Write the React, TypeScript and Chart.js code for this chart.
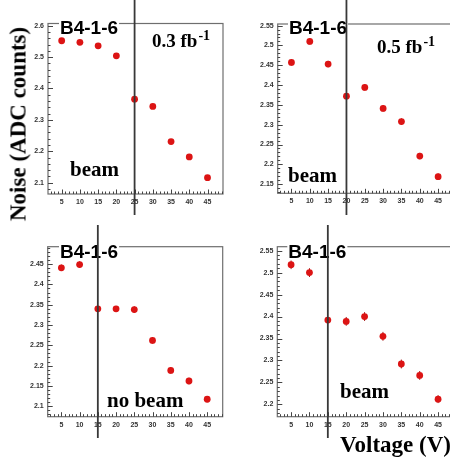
import React, { useEffect, useRef } from "react";
import { Chart, registerables } from "chart.js";

Chart.register(...registerables);

// ---- data ----
const voltages = [5, 10, 15, 20, 25, 30, 35, 40, 45];
const xTickValues = [5, 10, 15, 20, 25, 30, 35, 40, 45];

const noise03 = [2.552, 2.547, 2.536, 2.504, 2.366, 2.343, 2.231, 2.182, 2.116];
const err03 = [0.005, 0.005, 0.005, 0.005, 0.005, 0.005, 0.005, 0.005, 0.005];
const yTicks03 = [2.1, 2.2, 2.3, 2.4, 2.5, 2.6];

const noise05 = [2.457, 2.51, 2.453, 2.372, 2.394, 2.341, 2.308, 2.221, 2.169];
const err05 = [0.008, 0.008, 0.008, 0.007, 0.008, 0.008, 0.008, 0.008, 0.008];
const yTicks05 = [2.15, 2.2, 2.25, 2.3, 2.35, 2.4, 2.45, 2.5, 2.55];

const noiseNoBeam = [2.441, 2.449, 2.34, 2.34, 2.338, 2.262, 2.188, 2.162, 2.117];
const errNoBeam = [0.008, 0.008, 0.006, 0.007, 0.008, 0.008, 0.008, 0.008, 0.007];
const yTicksNoBeam = [2.1, 2.15, 2.2, 2.25, 2.3, 2.35, 2.4, 2.45];

const noiseBeam = [2.518, 2.5, 2.392, 2.389, 2.4, 2.355, 2.292, 2.266, 2.212];
const errBeam = [0.01, 0.01, 0.007, 0.01, 0.01, 0.01, 0.01, 0.01, 0.009];
const yTicksBeam = [2.2, 2.25, 2.3, 2.35, 2.4, 2.45, 2.5, 2.55];

const panelTitles = ["B4-1-6", "B4-1-6", "B4-1-6", "B4-1-6"];
const lumiLabels = ["0.3 fb", "0.5 fb", "", ""];
const beamLabels = ["beam", "beam", "no beam", "beam"];
const lineVoltages = [25, 20, 15, 15];

const X_MIN = 1.25;
const X_MAX = 49.25;

// ---- layout / style ----
type Panel = {
  left: number; top: number; w: number; h: number;
  padTop: number; padRight: number; yAxisW: number; xAxisH: number;
  yMin: number; yMax: number; yTicks: number[]; yMajor: number; yMinor: number;
  values: number[]; errs: number[];
  title: string; titlePos: [number, number];
  lumi: string; lumiPos: [number, number];
  beam: string; beamPos: [number, number];
  lineAt: number; lineEnd: number;
};

const panels: Panel[] = [
  {
    left: 0, top: 0, w: 230, h: 225, padTop: 23.5, padRight: 7, yAxisW: 48, xAxisH: 31,
    yMin: 2.064, yMax: 2.607, yTicks: yTicks03, yMajor: 0.1, yMinor: 0.02,
    values: noise03, errs: err03,
    title: panelTitles[0], titlePos: [60, 33.5],
    lumi: lumiLabels[0], lumiPos: [152, 46.5],
    beam: beamLabels[0], beamPos: [70, 175.5],
    lineAt: lineVoltages[0], lineEnd: 215,
  },
  {
    left: 230, top: 0, w: 230, h: 225, padTop: 24, padRight: 6.3, yAxisW: 47.7, xAxisH: 31.7,
    yMin: 2.127, yMax: 2.554, yTicks: yTicks05, yMajor: 0.05, yMinor: 0.01,
    values: noise05, errs: err05,
    title: panelTitles[1], titlePos: [59, 34],
    lumi: lumiLabels[1], lumiPos: [147, 53.3],
    beam: beamLabels[1], beamPos: [58, 181.7],
    lineAt: lineVoltages[1], lineEnd: 215,
  },
  {
    left: 0, top: 225, w: 230, h: 236, padTop: 21.7, padRight: 7.3, yAxisW: 47.7, xAxisH: 44.3,
    yMin: 2.074, yMax: 2.493, yTicks: yTicksNoBeam, yMajor: 0.05, yMinor: 0.01,
    values: noiseNoBeam, errs: errNoBeam,
    title: panelTitles[2], titlePos: [60, 33.3],
    lumi: lumiLabels[2], lumiPos: [0, 0],
    beam: beamLabels[2], beamPos: [107, 181.7],
    lineAt: lineVoltages[2], lineEnd: 213,
  },
  {
    left: 230, top: 225, w: 230, h: 236, padTop: 21.7, padRight: 6.3, yAxisW: 47.3, xAxisH: 44.3,
    yMin: 2.172, yMax: 2.559, yTicks: yTicksBeam, yMajor: 0.05, yMinor: 0.01,
    values: noiseBeam, errs: errBeam,
    title: panelTitles[3], titlePos: [58.3, 33.3],
    lumi: lumiLabels[3], lumiPos: [0, 0],
    beam: beamLabels[3], beamPos: [110, 173.3],
    lineAt: lineVoltages[3], lineEnd: 213,
  },
];

const RED = "#dc1414";
const FRAME = "#6e6e6e";
const TICKS = "#444";
const LINE = "#383838";
const TICK_FONT = { family: "'Liberation Sans', Arial, sans-serif", size: 7, weight: "bold" as const };

function makeDecor(p: Panel) {
  return {
    id: "decor",
    beforeDatasetsDraw(chart: any) {
      const ctx = chart.ctx;
      const xs = chart.scales.x;
      const ys = chart.scales.y;
      ctx.save();
      ctx.strokeStyle = "#a01010";
      ctx.lineWidth = 1;
      voltages.forEach((v, i) => {
        const px = xs.getPixelForValue(v);
        ctx.beginPath();
        ctx.moveTo(px, ys.getPixelForValue(p.values[i] - p.errs[i]));
        ctx.lineTo(px, ys.getPixelForValue(p.values[i] + p.errs[i]));
        ctx.stroke();
      });
      ctx.restore();
    },
    afterDraw(chart: any) {
      const ctx = chart.ctx;
      const a = chart.chartArea;
      const xs = chart.scales.x;
      const ys = chart.scales.y;
      ctx.save();
      // frame
      ctx.strokeStyle = FRAME;
      ctx.lineWidth = 1.2;
      ctx.strokeRect(a.left, a.top, a.right - a.left, a.bottom - a.top);
      // x ticks (inside)
      ctx.strokeStyle = TICKS;
      ctx.lineWidth = 1;
      for (let v = Math.ceil(X_MIN); v <= Math.floor(X_MAX); v++) {
        const px = Math.round(xs.getPixelForValue(v)) + 0.5;
        const len = v % 5 === 0 ? 4.5 : 2.5;
        ctx.beginPath();
        ctx.moveTo(px, a.bottom);
        ctx.lineTo(px, a.bottom - len);
        ctx.stroke();
      }
      // y ticks (inside)
      const n0 = Math.ceil(p.yMin / p.yMinor - 1e-6);
      const n1 = Math.floor(p.yMax / p.yMinor + 1e-6);
      for (let n = n0; n <= n1; n++) {
        const v = n * p.yMinor;
        const r = v / p.yMajor;
        const major = Math.abs(r - Math.round(r)) < 1e-6;
        const py = Math.round(ys.getPixelForValue(v)) + 0.5;
        ctx.beginPath();
        ctx.moveTo(a.left, py);
        ctx.lineTo(a.left + (major ? 5 : 2.5), py);
        ctx.stroke();
      }
      // title with white background
      ctx.font = "bold 19px 'Liberation Sans', Arial, sans-serif";
      ctx.textBaseline = "alphabetic";
      const tw = ctx.measureText(p.title).width;
      ctx.fillStyle = "#fff";
      ctx.fillRect(p.titlePos[0] - 1, p.titlePos[1] - 15, tw + 2, 17);
      ctx.fillStyle = "#000";
      ctx.fillText(p.title, p.titlePos[0], p.titlePos[1]);
      // luminosity
      if (p.lumi) {
        ctx.font = "bold 19px 'Liberation Serif', 'Times New Roman', serif";
        ctx.fillText(p.lumi, p.lumiPos[0], p.lumiPos[1]);
        const lw = ctx.measureText(p.lumi).width;
        ctx.font = "bold 14px 'Liberation Serif', 'Times New Roman', serif";
        ctx.fillText("-1", p.lumiPos[0] + lw + 1, p.lumiPos[1] - 7);
      }
      // beam label
      ctx.font = "bold 21px 'Liberation Serif', 'Times New Roman', serif";
      ctx.fillText(p.beam, p.beamPos[0], p.beamPos[1]);
      // vertical line
      const lx = xs.getPixelForValue(p.lineAt);
      ctx.strokeStyle = LINE;
      ctx.lineWidth = 1.8;
      ctx.beginPath();
      ctx.moveTo(lx, 0);
      ctx.lineTo(lx, p.lineEnd);
      ctx.stroke();
      ctx.restore();
    },
  };
}

function PanelChart({ p }: { p: Panel }) {
  const ref = useRef<HTMLCanvasElement | null>(null);
  useEffect(() => {
    if (!ref.current) return;
    const chart = new Chart(ref.current, {
      type: "scatter",
      data: {
        datasets: [
          {
            data: voltages.map((v, i) => ({ x: v, y: p.values[i] })),
            pointRadius: 3.4,
            pointBackgroundColor: RED,
            pointBorderWidth: 0,
            showLine: false,
          },
        ],
      },
      options: {
        responsive: false,
        animation: false,
        devicePixelRatio: 1,
        layout: { padding: { top: p.padTop, right: p.padRight, left: 0, bottom: 0 } },
        plugins: { legend: { display: false }, tooltip: { enabled: false } },
        scales: {
          x: {
            type: "linear",
            min: X_MIN,
            max: X_MAX,
            grid: { display: false, drawTicks: false },
            border: { display: false },
            ticks: { font: TICK_FONT, color: "#333", padding: 4, maxRotation: 0, autoSkip: false },
            afterBuildTicks: (axis: any) => {
              axis.ticks = xTickValues.map((v) => ({ value: v }));
            },
            afterFit: (axis: any) => {
              axis.height = p.xAxisH;
            },
          },
          y: {
            type: "linear",
            min: p.yMin,
            max: p.yMax,
            grid: { display: false, drawTicks: false },
            border: { display: false },
            ticks: {
              font: TICK_FONT,
              color: "#333",
              padding: 4,
              autoSkip: false,
              callback: (v: any) => String(Math.round(Number(v) * 100) / 100),
            },
            afterBuildTicks: (axis: any) => {
              axis.ticks = p.yTicks.map((v) => ({ value: v }));
            },
            afterFit: (axis: any) => {
              axis.width = p.yAxisW;
            },
          },
        },
      },
      plugins: [makeDecor(p)],
    } as any);
    return () => chart.destroy();
  }, [p]);
  return (
    <canvas
      ref={ref}
      width={p.w}
      height={p.h}
      style={{ position: "absolute", left: p.left, top: p.top, width: p.w, height: p.h }}
    />
  );
}

export default function App() {
  return (
    <div
      style={{
        position: "absolute",
        left: 0,
        top: 0,
        width: 450,
        height: 461,
        overflow: "hidden",
        background: "#fff",
      }}
    >
      {panels.map((p, i) => (
        <PanelChart key={i} p={p} />
      ))}
      <div
        style={{
          position: "absolute",
          left: 18,
          top: 124,
          transform: "translate(-50%, -50%) rotate(-90deg)",
          whiteSpace: "nowrap",
          font: "bold 23px 'Liberation Serif', 'Times New Roman', serif",
          lineHeight: 1,
          color: "#000",
        }}
      >
        Noise (ADC counts)
      </div>
      <div
        style={{
          position: "absolute",
          left: 340,
          top: 433,
          whiteSpace: "nowrap",
          font: "bold 23px 'Liberation Serif', 'Times New Roman', serif",
          lineHeight: 1,
          color: "#000",
        }}
      >
        Voltage (V)
      </div>
    </div>
  );
}
